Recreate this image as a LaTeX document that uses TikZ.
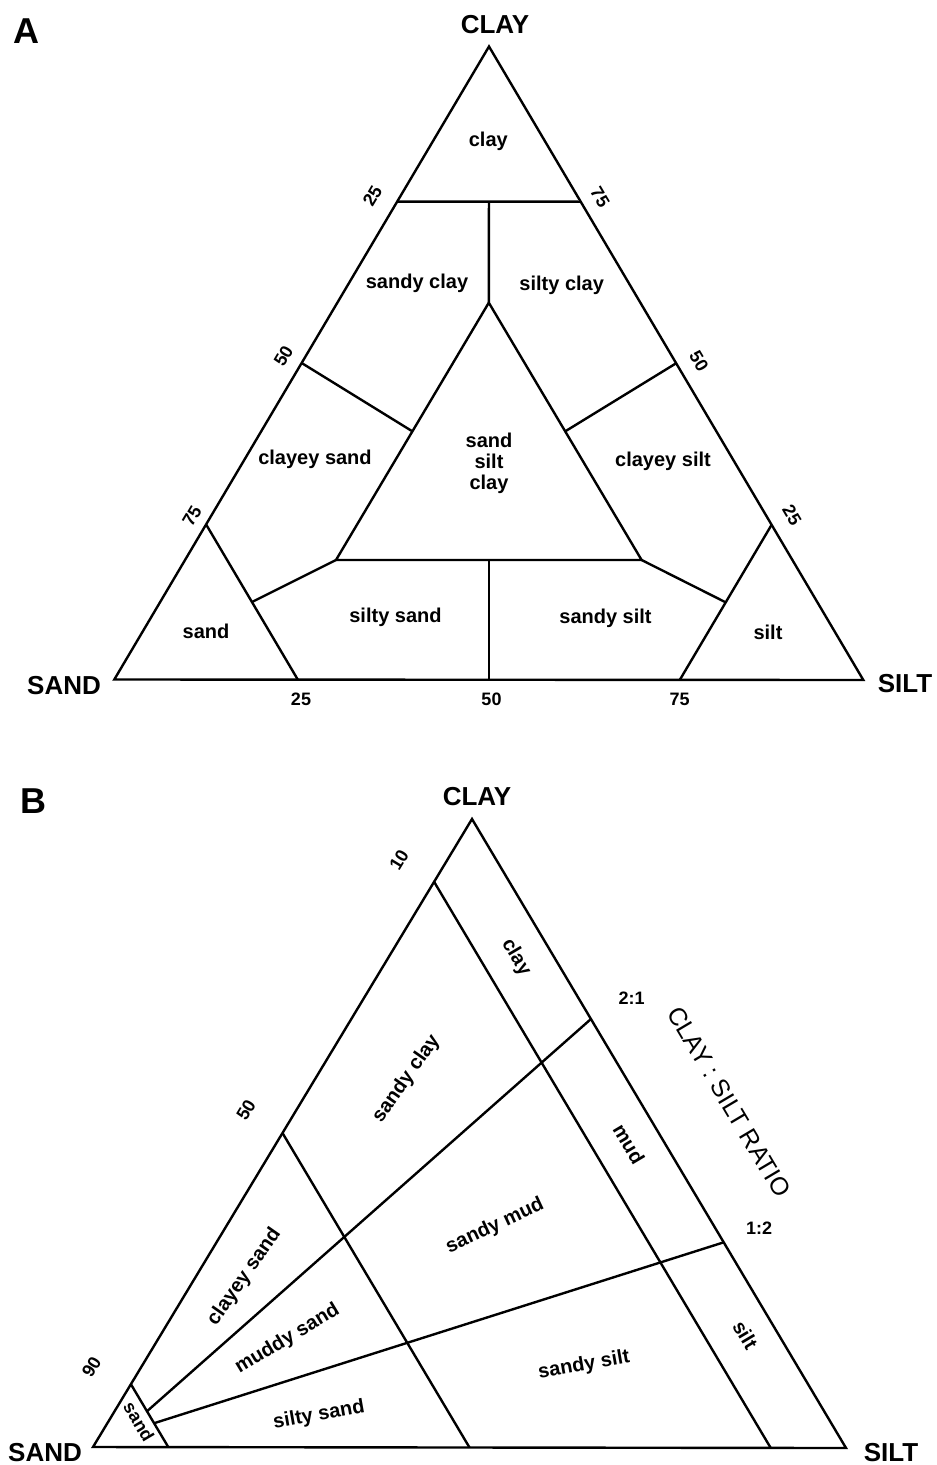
\documentclass[tikz,border=0pt]{standalone}
\usepackage{fontspec}
\setmainfont{Liberation Sans}
\usetikzlibrary{calc}

\begin{document}
\begin{tikzpicture}[x=0.5pt,y=-0.5pt,
  edge/.style={line width=1.2pt, line join=miter, line cap=butt},
  vtx/.style={font=\bfseries\fontsize{13}{15}\selectfont, inner sep=0pt},
  panel/.style={font=\bfseries\fontsize{18}{20}\selectfont, inner sep=0pt},
  region/.style={font=\bfseries\fontsize{10}{12}\selectfont, inner sep=0pt, align=center},
  tick/.style={font=\bfseries\fontsize{9}{11}\selectfont, inner sep=0pt},
  ratio/.style={font=\fontsize{12.5}{14}\selectfont, inner sep=0pt},
]
\useasboundingbox (0,0) rectangle (936,1465);

% ---------------- Panel A: Shepard-type triangle ----------------
\coordinate (aS) at (114.3,679.5);
\coordinate (aT) at (863.3,680);
\coordinate (aC) at (489,46.5);

% class boundaries at 75 %
\coordinate (aCl) at ($(aC)!0.245!(aS)$);
\coordinate (aCr) at ($(aC)!0.245!(aT)$);
\coordinate (aSl) at ($(aS)!0.245!(aC)$);
\coordinate (aSb) at ($(aS)!0.245!(aT)$);
\coordinate (aTr) at ($(aT)!0.245!(aC)$);
\coordinate (aTb) at ($(aT)!0.245!(aS)$);

% central sand-silt-clay triangle
\coordinate (aIc) at (488.8,302.7);
\coordinate (aIs) at (336,560);
\coordinate (aIt) at (641.6,560);

% side midpoints and median end points
\coordinate (aMsc) at ($(aS)!0.5!(aC)$);
\coordinate (aMct) at ($(aC)!0.5!(aT)$);
\coordinate (aMst) at ($(aS)!0.5!(aT)$);
\coordinate (aNsc) at ($(aIs)!0.5!(aIc)$);
\coordinate (aNct) at ($(aIc)!0.5!(aIt)$);
\coordinate (aNst) at ($(aIs)!0.5!(aIt)$);
\coordinate (aEc) at ($(aCl)!0.5!(aCr)$);
\coordinate (aEs) at ($(aSl)!0.5!(aSb)$);
\coordinate (aEt) at ($(aTr)!0.5!(aTb)$);

\draw[edge] (aS) -- (aT) -- (aC) -- cycle;
\draw[edge] (aCl) -- (aCr);
\draw[edge] (aSl) -- (aSb);
\draw[edge] (aTr) -- (aTb);
\draw[edge] (aIc) -- (aIs) -- (aIt) -- cycle;
\draw[edge] (aEc) -- (aIc);
\draw[edge] (aEs) -- (aIs);
\draw[edge] (aEt) -- (aIt);
\draw[edge] (aMsc) -- (aNsc);
\draw[edge] (aMct) -- (aNct);
\draw[edge] (aMst) -- (aNst);

\node[panel] (labA) at (26,31) {A};
\node[vtx] (aClay) at (495,25) {CLAY};
\node[vtx] (aSand) at (64,686) {SAND};
\node[vtx] (aSilt) at (905,684) {SILT};

\node[tick, rotate=59.4] (aL25) at (372.5,196) {25};
\node[tick, rotate=59.4] (aL50) at (283.5,356) {50};
\node[tick, rotate=59.4] (aL75) at (192,516) {75};
\node[tick, rotate=-59.4] (aR75) at (600,197.5) {75};
\node[tick, rotate=-59.4] (aR50) at (699,361) {50};
\node[tick, rotate=-59.4] (aR25) at (792,515) {25};
\node[tick] (aB25) at (301,699) {25};
\node[tick] (aB50) at (491.5,699) {50};
\node[tick] (aB75) at (679.5,699) {75};

\node[region] (aRclay) at (488.3,141) {clay};
\node[region] (aRsc) at (417,283) {sandy clay};
\node[region] (aRzc) at (561.7,285) {silty clay};
\node[region] (aRcs) at (315,459) {clayey sand};
\node[region] (aRmix) at (489,463) {sand\\[-1.5pt]silt\\[-1.5pt]clay};
\node[region] (aRcz) at (663,461) {clayey silt};
\node[region] (aRs) at (206,631) {sand};
\node[region] (aRzs) at (395.5,617) {silty sand};
\node[region] (aRsz) at (605.5,618) {sandy silt};
\node[region] (aRz) at (768,632) {silt};

% ---------------- Panel B: Folk-type triangle ----------------
\coordinate (bS) at (93,1447);
\coordinate (bT) at (846,1448);
\coordinate (bC) at (472,819);

\coordinate (bL10) at ($(bC)!0.1!(bS)$);
\coordinate (bB10) at ($(bT)!0.1!(bS)$);
\coordinate (bL50) at ($(bC)!0.5!(bS)$);
\coordinate (bB50) at ($(bT)!0.5!(bS)$);
\coordinate (bL90) at ($(bC)!0.9!(bS)$);
\coordinate (bB90) at ($(bT)!0.9!(bS)$);
\coordinate (bR21) at ($(bC)!0.318!(bT)$);
\coordinate (bR12) at ($(bC)!0.673!(bT)$);
\coordinate (bE21) at ($(bL90)!0.43!(bB90)$);
\coordinate (bE12) at ($(bL90)!0.62!(bB90)$);

\draw[edge] (bS) -- (bT) -- (bC) -- cycle;
\draw[edge] (bL10) -- (bB10);
\draw[edge] (bL50) -- (bB50);
\draw[edge] (bL90) -- (bB90);
\draw[edge] (bE21) -- (bR21);
\draw[edge] (bE12) -- (bR12);

\node[panel] (labB) at (33,801) {B};
\node[vtx] (bClay) at (477,797) {CLAY};
\node[vtx] (bSand) at (45,1453) {SAND};
\node[vtx] (bSilt) at (891,1453) {SILT};

\node[tick, rotate=58.8] (bN10) at (399,860) {10};
\node[tick, rotate=58.8] (bN50) at (246,1110) {50};
\node[tick, rotate=58.8] (bN90) at (91.5,1367) {90};
\node[tick] (bQ21) at (631.7,998) {2:1};
\node[tick] (bQ12) at (759,1228) {1:2};
\node[ratio, rotate=-59.3] (bRatio) at (729,1102) {CLAY : SILT RATIO};

\node[region, rotate=-59.3] (bRclay) at (516,957.5) {clay};
\node[region, rotate=55] (bRsc) at (406.5,1079) {sandy clay};
\node[region, rotate=-59.3] (bRmud) at (629,1144) {mud};
\node[region, rotate=25] (bRsm) at (495,1226) {sandy mud};
\node[region, rotate=55] (bRcs) at (244.5,1277) {clayey sand};
\node[region, rotate=31] (bRms) at (287.5,1339) {muddy sand};
\node[region, rotate=-59.3] (bRz) at (745.5,1335) {silt};
\node[region, rotate=10] (bRsz) at (584,1365) {sandy silt};
\node[region, rotate=10] (bRzs) at (319,1415) {silty sand};
\node[region, rotate=-59.3, font=\bfseries\fontsize{9}{11}\selectfont] (bRs) at (139,1421.7) {sand};
\end{tikzpicture}
\end{document}
